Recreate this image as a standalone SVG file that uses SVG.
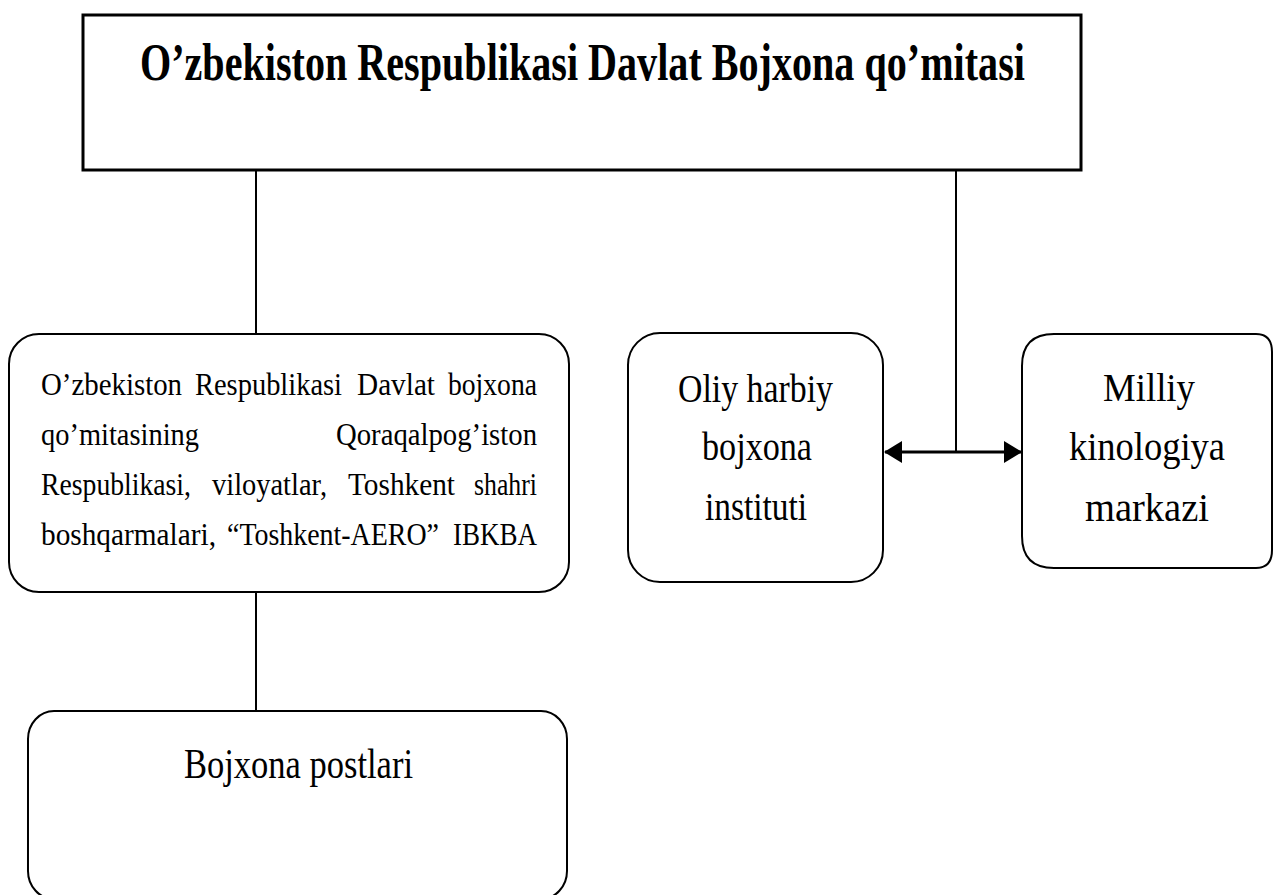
<svg xmlns="http://www.w3.org/2000/svg" width="1274" height="895" viewBox="0 0 1274 895">
<style>
  text { font-family: "Liberation Serif", "Times New Roman", serif; fill: #000; }
  .title { font-size: 53px; font-weight: bold; }
  .lb { font-size: 31px; }
  .nb { font-size: 40px; text-anchor: middle; }
  .bb { font-size: 42px; }
  .box { fill: #fff; stroke: #000; stroke-width: 2; }
  .top { fill: #fff; stroke: #000; stroke-width: 3; }
  .conn { fill: none; stroke: #000; stroke-width: 2; }
  .arr { fill: none; stroke: #000; stroke-width: 3; }
</style>
<defs>
  <marker id="ah" viewBox="0 0 18 22" refX="17" refY="11" markerWidth="18" markerHeight="22" markerUnits="userSpaceOnUse" orient="auto-start-reverse">
    <path d="M0,0 L18,11 L0,22 Z" fill="#000"/>
  </marker>
</defs>
<rect width="1274" height="895" fill="#fff"/>

<g id="connectors">
  <line class="conn" x1="256" y1="170" x2="256" y2="334"/>
  <line class="conn" x1="256" y1="592" x2="256" y2="711"/>
  <line class="conn" x1="956" y1="170" x2="956" y2="453"/>
  <line class="arr" x1="885" y1="452" x2="1021" y2="452" marker-start="url(#ah)" marker-end="url(#ah)"/>
</g>

<g id="node-top">
  <rect class="top" x="83" y="15" width="998" height="155"/>
  <text class="title" transform="translate(140,80) scale(0.757,1)" x="0" y="0" textLength="1169" lengthAdjust="spacingAndGlyphs">O’zbekiston Respublikasi Davlat Bojxona qo’mitasi</text>
</g>

<g id="node-left">
  <rect class="box" x="9" y="334" width="560" height="258" rx="30" ry="30"/>
  <text class="lb" x="41" y="395" textLength="141" lengthAdjust="spacingAndGlyphs">O’zbekiston</text>
  <text class="lb" x="195" y="395" textLength="147" lengthAdjust="spacingAndGlyphs">Respublikasi</text>
  <text class="lb" x="357" y="395" textLength="78" lengthAdjust="spacingAndGlyphs">Davlat</text>
  <text class="lb" x="448" y="395" textLength="89" lengthAdjust="spacingAndGlyphs">bojxona</text>
  <text class="lb" x="41" y="445" textLength="158" lengthAdjust="spacingAndGlyphs">qo’mitasining</text>
  <text class="lb" x="336" y="445" textLength="201" lengthAdjust="spacingAndGlyphs">Qoraqalpog’iston</text>
  <text class="lb" x="41" y="495" textLength="150" lengthAdjust="spacingAndGlyphs">Respublikasi,</text>
  <text class="lb" x="212" y="495" textLength="115" lengthAdjust="spacingAndGlyphs">viloyatlar,</text>
  <text class="lb" x="348" y="495" textLength="107" lengthAdjust="spacingAndGlyphs">Toshkent</text>
  <text class="lb" x="474" y="495" textLength="63" lengthAdjust="spacingAndGlyphs">shahri</text>
  <text class="lb" x="41" y="545" textLength="175" lengthAdjust="spacingAndGlyphs">boshqarmalari,</text>
  <text class="lb" x="227" y="545" textLength="212" lengthAdjust="spacingAndGlyphs">“Toshkent-AERO”</text>
  <text class="lb" x="453" y="545" textLength="84" lengthAdjust="spacingAndGlyphs">IBKBA</text>
</g>

<g id="node-institute">
  <rect class="box" x="628" y="333" width="255" height="249" rx="32" ry="32"/>
  <text class="nb" x="755.5" y="402" textLength="155" lengthAdjust="spacingAndGlyphs">Oliy harbiy</text>
  <text class="nb" x="757" y="460" textLength="110" lengthAdjust="spacingAndGlyphs">bojxona</text>
  <text class="nb" x="756" y="520" textLength="102" lengthAdjust="spacingAndGlyphs">instituti</text>
</g>

<g id="node-kinology">
  <path class="box" d="M1054,334 L1256,334 Q1272,334 1272,352 L1272,550 Q1272,568 1256,568 L1054,568 Q1022,568 1022,536 L1022,366 Q1022,334 1054,334 Z"/>
  <text class="nb" x="1149" y="401" textLength="92" lengthAdjust="spacingAndGlyphs">Milliy</text>
  <text class="nb" x="1147" y="460" textLength="156" lengthAdjust="spacingAndGlyphs">kinologiya</text>
  <text class="nb" x="1147" y="521" textLength="124" lengthAdjust="spacingAndGlyphs">markazi</text>
</g>

<g id="node-posts">
  <rect class="box" x="28" y="711" width="539" height="188" rx="26" ry="28"/>
  <text class="bb" x="184" y="778" textLength="229" lengthAdjust="spacingAndGlyphs">Bojxona postlari</text>
</g>
</svg>
